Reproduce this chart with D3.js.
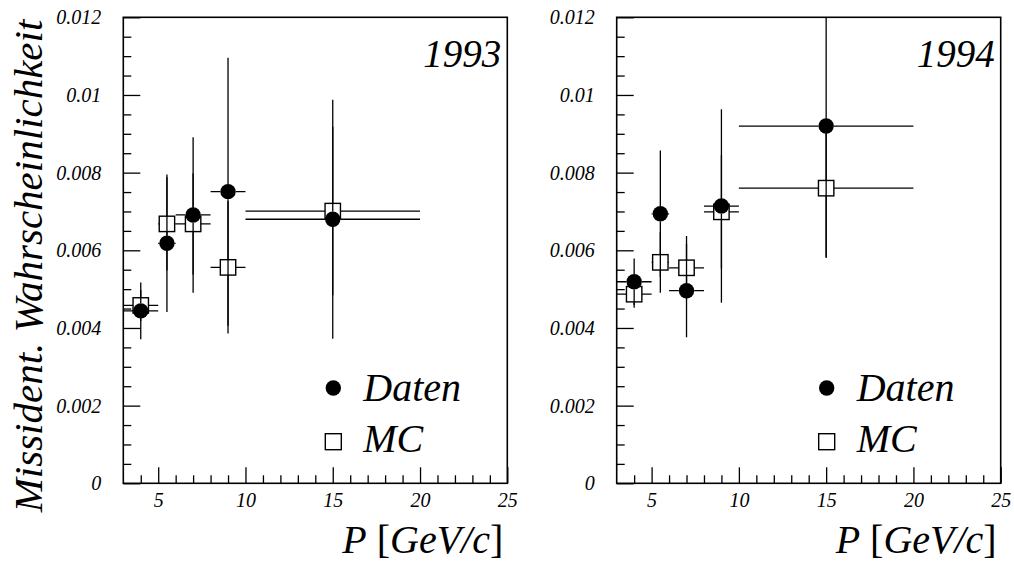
<!DOCTYPE html>
<html>
<head>
<meta charset="utf-8">
<script src="https://cdn.jsdelivr.net/npm/d3@7"></script>
<style>
  body { margin: 0; background: #fff; }
  svg text { font-family: "Liberation Serif", "Times New Roman", serif; }
</style>
</head>
<body>
<div id="chart"></div>
<script>
// momentum bins (GeV/c)
var pCenter = [4, 5.5, 7, 9, 15];
var pLow = [3, 5, 6, 8, 10];
var pHigh = [5, 6, 8, 10, 20];

// 1993
var daten1993 = [0.00444, 0.00618, 0.00691, 0.00751, 0.0068];
var datenErr1993 = [0.00073, 0.00177, 0.0020, 0.00345, 0.00308];
var mc1993 = [0.00458, 0.00668, 0.00668, 0.00556, 0.00701];
var mcErr1993 = [0.0004, 0.0012, 0.0013, 0.0017, 0.00217];

// 1994
var daten1994 = [0.00519, 0.00694, 0.00496, 0.00714, 0.0092];
var datenErr1994 = [0.0006, 0.00163, 0.0012, 0.00249, 0.00337];
var mc1994 = [0.00487, 0.00569, 0.00555, 0.00699, 0.0076];
var mcErr1994 = [0.00035, 0.00078, 0.00082, 0.00146, 0.0018];

var yMajor = [0, 0.002, 0.004, 0.006, 0.008, 0.01, 0.012];
var xMajor = [5, 10, 15, 20, 25];

var width = 1014, height = 569;
var svg = d3.select("#chart").append("svg").attr("width", width).attr("height", height);

var plotTop = 17.3, plotBottom = 483.3, pw = 384;
var ph = plotBottom - plotTop;
var markR = 7.7;

function drawPanel(left, label, daten, datenErr, mc, mcErr, idx) {
  var x = d3.scaleLinear().domain([3, 25]).range([0, pw]);
  var y = d3.scaleLinear().domain([0, 0.012]).range([ph, 0]);
  var g = svg.append("g").attr("transform", "translate(" + left + "," + plotTop + ")");

  g.append("clipPath").attr("id", "clip" + idx)
    .append("rect").attr("width", pw).attr("height", ph);

  // y axis: minor + major ticks pointing inwards
  var yMinor = d3.range(1, 24).filter(function (d) { return d % 4 !== 0; }).map(function (d) { return d * 0.0005; });
  g.append("g").call(d3.axisLeft(y).tickValues(yMinor).tickSize(-8).tickFormat(""));
  g.append("g").attr("class", "yaxis")
    .call(d3.axisLeft(y).tickValues(yMajor).tickSize(-17).tickPadding(22)
      .tickFormat(function (d) { return d === 0 ? "0" : String(+d.toFixed(3)); }));

  var xMinor = d3.range(4, 25).filter(function (d) { return d % 5 !== 0; });
  g.append("g").attr("transform", "translate(0," + ph + ")")
    .call(d3.axisBottom(x).tickValues(xMinor).tickSize(-8).tickFormat(""));
  g.append("g").attr("class", "xaxis").attr("transform", "translate(0," + ph + ")")
    .call(d3.axisBottom(x).tickValues(xMajor).tickSize(-16).tickPadding(10).tickFormat(d3.format("d")));

  g.selectAll(".domain").remove();
  g.selectAll(".tick line").attr("stroke", "#000").attr("stroke-width", 1.3);
  g.selectAll(".tick text").attr("font-style", "italic").attr("font-size", 20)
    .attr("font-family", "Liberation Serif").attr("fill", "#000");

  g.append("rect").attr("width", pw).attr("height", ph)
    .attr("fill", "none").attr("stroke", "#000").attr("stroke-width", 1.6);

  var plot = g.append("g").attr("clip-path", "url(#clip" + idx + ")");

  function errorBars(vals, errs) {
    vals.forEach(function (v, i) {
      var cx = x(pCenter[i]), cy = y(v);
      var segs = [
        [cx, y(v + errs[i]), cx, cy - markR],
        [cx, cy + markR, cx, y(v - errs[i])],
        [x(pLow[i]), cy, cx - markR, cy],
        [cx + markR, cy, x(pHigh[i]), cy]
      ];
      segs.forEach(function (s) {
        if ((s[2] - s[0]) + (s[3] - s[1]) > 0.5) {
          plot.append("line").attr("x1", s[0]).attr("y1", s[1]).attr("x2", s[2]).attr("y2", s[3])
            .attr("stroke", "#000").attr("stroke-width", 1.3);
        }
      });
    });
  }

  // MC (open squares)
  errorBars(mc, mcErr);
  plot.selectAll(".mc").data(mc).enter().append("rect")
    .attr("x", function (d, i) { return x(pCenter[i]) - markR; })
    .attr("y", function (d) { return y(d) - markR; })
    .attr("width", markR * 2).attr("height", markR * 2)
    .attr("fill", "none").attr("stroke", "#000").attr("stroke-width", 1.4);

  // Daten (filled circles)
  errorBars(daten, datenErr);
  plot.selectAll(".daten").data(daten).enter().append("circle")
    .attr("cx", function (d, i) { return x(pCenter[i]); })
    .attr("cy", function (d) { return y(d); })
    .attr("r", markR).attr("fill", "#000");

  // year label
  g.append("text").attr("x", pw - 6).attr("y", 67 - plotTop)
    .attr("text-anchor", "end").attr("font-style", "italic").attr("font-size", 39).text(label);

  // legend
  var lx = 210;
  g.append("circle").attr("cx", lx).attr("cy", 388 - plotTop).attr("r", markR).attr("fill", "#000");
  g.append("text").attr("x", lx + 30).attr("y", 400.7 - plotTop)
    .attr("font-style", "italic").attr("font-size", 40).text("Daten");
  g.append("rect").attr("x", lx - 8).attr("y", 441.7 - plotTop - 8).attr("width", 16).attr("height", 16)
    .attr("fill", "none").attr("stroke", "#000").attr("stroke-width", 1.4);
  g.append("text").attr("x", lx + 30).attr("y", 451.7 - plotTop)
    .attr("font-style", "italic").attr("font-size", 40).text("MC");

  // x title
  var xt = g.append("text").attr("x", pw - 4).attr("y", 553.5 - plotTop)
    .attr("text-anchor", "end").attr("font-size", 40);
  xt.append("tspan").attr("font-style", "italic").text("P");
  xt.append("tspan").text(" [");
  xt.append("tspan").attr("font-style", "italic").text("GeV/c");
  xt.append("tspan").text("]");
}

drawPanel(123.3, "1993", daten1993, datenErr1993, mc1993, mcErr1993, 0);
drawPanel(616.7, "1994", daten1994, datenErr1994, mc1994, mcErr1994, 1);

// y title
svg.append("text")
  .attr("transform", "translate(42,266) rotate(-90)")
  .attr("text-anchor", "middle").attr("font-style", "italic").attr("font-size", 41)
  .text("Missident. Wahrscheinlichkeit");
</script>
</body>
</html>
